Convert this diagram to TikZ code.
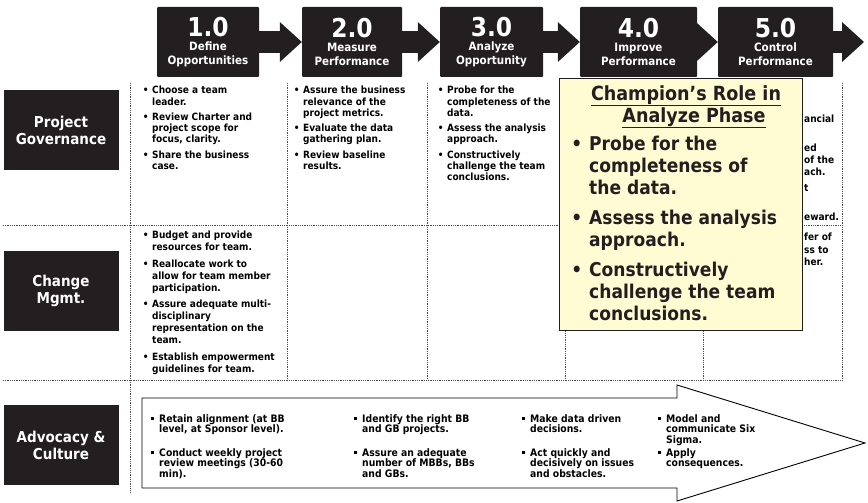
\documentclass[tikz,border=0pt]{standalone}
\usepackage{fontspec}
\setmainfont{DejaVu Sans}[FakeStretch=0.9]
\usetikzlibrary{arrows.meta,positioning}

\definecolor{phaseblack}{HTML}{231F20}
\definecolor{noteyellow}{HTML}{FFFCD4}
\definecolor{dotgray}{HTML}{4A4A4A}

\newcommand{\bl}{\llap{•\hspace{3.5pt}}}
\newcommand{\sq}{\llap{\raisebox{1.6pt}{\rule{3.2pt}{3.2pt}}\hspace{5pt}}}
\newcommand{\cbl}{\llap{•\hspace{7pt}}}
\newcommand{\phnum}[1]{{\fontsize{26}{26}\selectfont #1}}

\tikzset{
    phasebox/.style={fill=phaseblack, text=white, align=center, inner sep=0pt,
        minimum height=70pt, rounded corners=1pt,
        font=\fontsize{11.5}{14}\selectfont\bfseries},
    phasearrow/.style={phaseblack, line width=22pt,
        -{Triangle[length=22pt,width=40pt,line width=0pt]}},
    rowbox/.style={fill=phaseblack, text=white, align=center, inner sep=0pt,
        minimum width=115pt, minimum height=80pt,
        font=\fontsize{15}{17}\selectfont\bfseries},
    gridline/.style={dotgray, line width=0.6pt, dash pattern=on 0.9pt off 0.9pt},
    celltext/.style={anchor=north west, align=left, inner sep=0pt,
        font=\fontsize{10}{11.3}\selectfont\bfseries},
    arrowtext/.style={anchor=north west, align=left, inner sep=0pt,
        font=\fontsize{10.3}{10.5}\selectfont\bfseries},
    cuttext/.style={anchor=base west, inner sep=0pt,
        font=\fontsize{10}{11.3}\selectfont\bfseries},
    notebox/.style={anchor=north west, fill=noteyellow, draw=phaseblack,
        line width=0.8pt, minimum width=243pt, minimum height=252pt, inner sep=0pt},
    notetext/.style={align=left, inner sep=0pt, text=phaseblack,
        font=\fontsize{19}{22}\selectfont\bfseries}
}

\begin{document}
\begin{tikzpicture}[x=1pt,y=-1pt]
    \useasboundingbox (0,0) rectangle (868,503);

    % dotted grid
    \foreach \gx in {287,427,565,703,842}
        \draw[gridline] (\gx,83) -- (\gx,380);
    \draw[gridline] (130,83) -- (130,492);
    \foreach \gy in {225,380}
        \draw[gridline] (3,\gy) -- (842,\gy);

    % phases
    \node[phasebox, minimum width=102pt] (p1) at (208,42) {\phnum{1.0}\\Define\\Opportunities};
    \node[phasebox, minimum width=100pt] (p2) at (352,42) {\phnum{2.0}\\Measure\\Performance};
    \node[phasebox, minimum width=103pt] (p3) at (491.5,42) {\phnum{3.0}\\Analyze\\Opportunity};
    \node[phasebox, minimum width=117pt] (p4) at (638.5,42) {\phnum{4.0}\\Improve\\Performance};
    \node[phasebox, minimum width=115pt] (p5) at (775.5,42) {\phnum{5.0}\\Control\\Performance};
    \coordinate (pend) at (864,42);
    \foreach \a/\b in {p1/p2,p2/p3,p3/p4,p4/p5,p5/pend}
        \draw[phasearrow] (\a) -- (\b);

    % row labels
    \node[rowbox] (gov) at (61,130) {Project\\Governance};
    \node[rowbox] (chg) at (61,291) {Change\\Mgmt.};
    \node[rowbox] (adv) at (61,445) {Advocacy \&\\Culture};

    % project governance
    \node[celltext] (gov1) at (152,86) {\bl Choose a team\\leader.\\[4pt]\bl Review Charter and\\project scope for\\focus, clarity.\\[4pt]\bl Share the business\\case.};
    \node[celltext] (gov2) at (303,86) {\bl Assure the business\\relevance of the\\project metrics.\\[4pt]\bl Evaluate the data\\gathering plan.\\[4pt]\bl Review baseline\\results.};
    \node[celltext] (gov3) at (447,86) {\bl Probe for the\\completeness of the\\data.\\[4pt]\bl Assess the analysis\\approach.\\[4pt]\bl Constructively\\challenge the team\\conclusions.};

    % change mgmt
    \node[celltext, font=\fontsize{10}{12}\selectfont\bfseries] (chg1) at (152,231) {\bl Budget and provide\\resources for team.\\[4.5pt]\bl Reallocate work to\\allow for team member\\participation.\\[4.5pt]\bl Assure adequate multi-\\disciplinary\\representation on the\\team.\\[4.5pt]\bl Establish empowerment\\guidelines for team.};

    % control column, cut by the note
    \node[cuttext] (cut1) at (804,122.6) {ancial};
    \node[cuttext] (cut2) at (804,151.6) {ed};
    \node[cuttext] (cut3) at (804,163.6) {of the};
    \node[cuttext] (cut4) at (804,175.6) {ach.};
    \node[cuttext] (cut5) at (804,191.6) {t};
    \node[cuttext] (cut6) at (804,220.6) {eward.};
    \node[cuttext] (cut7) at (804,240.6) {fer of};
    \node[cuttext] (cut8) at (804,253.6) {ss to};
    \node[cuttext] (cut9) at (804,265.6) {her.};

    % advocacy arrow
    \draw[fill=white, line width=0.9pt] (142,398) -- (677,398) -- (677,385)
        -- (865,443) -- (677,501) -- (677,488) -- (142,488) -- cycle;
    \node[arrowtext] (adv11) at (159,414) {\sq Retain alignment (at BB\\level, at Sponsor level).};
    \node[arrowtext] (adv12) at (159,448) {\sq Conduct weekly project\\review meetings (30-60\\min).};
    \node[arrowtext] (adv21) at (362,414) {\sq Identify the right BB\\and GB projects.};
    \node[arrowtext] (adv22) at (362,448) {\sq Assure an adequate\\number of MBBs, BBs\\and GBs.};
    \node[arrowtext] (adv31) at (530,414) {\sq Make data driven\\decisions.};
    \node[arrowtext] (adv32) at (530,448) {\sq Act quickly and\\decisively on issues\\and obstacles.};
    \node[arrowtext] (adv41) at (666,414) {\sq Model and\\communicate Six\\Sigma.};
    \node[arrowtext] (adv42) at (666,448) {\sq Apply\\consequences.};

    % champion note
    \node[notebox] (note) at (559,78) {};
    \node[notetext, align=center, anchor=north, font=\fontsize{19.5}{22}\selectfont\bfseries] (notehead) at (686,85)
        {\underline{Champion’s Role in}\\\hspace*{16pt}\underline{Analyze Phase}};
    \node[notetext, anchor=north west] (notebody) at (589,136)
        {\cbl Probe for the\\completeness of\\the data.\\[8pt]\cbl Assess the analysis\\approach.\\[8pt]\cbl Constructively\\challenge the team\\conclusions.};
\end{tikzpicture}
\end{document}
